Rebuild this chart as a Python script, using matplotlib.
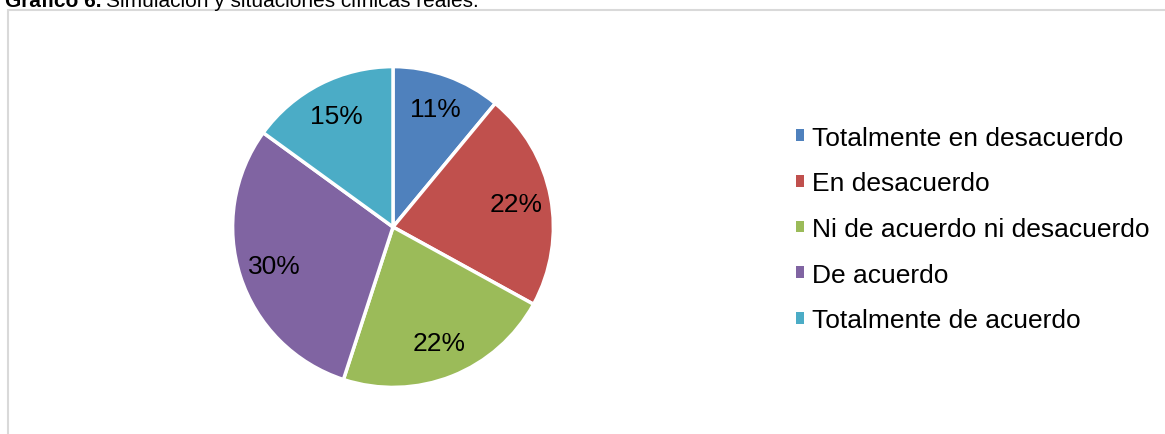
import matplotlib
import matplotlib.pyplot as plt
from matplotlib.patches import Patch, Rectangle

matplotlib.use('Agg')

# Datos del gráfico
categorias = [
    "Totalmente en desacuerdo",
    "En desacuerdo",
    "Ni de acuerdo ni desacuerdo",
    "De acuerdo",
    "Totalmente de acuerdo",
]
porcentajes = [11, 22, 22, 30, 15]
colores = ["#4F81BD", "#C0504D", "#9BBB59", "#8064A2", "#4BACC6"]

plt.rcParams['font.family'] = ['Liberation Sans', 'DejaVu Sans']

W, H = 1165, 435
fig = plt.figure(figsize=(W / 100, H / 100), dpi=100)

# Marco gris del área del gráfico
fig.patches.append(Rectangle((8 / W, -0.05), 1.2, 1 - 11 / H + 0.05,
                             transform=fig.transFigure, fill=False,
                             edgecolor="#d9d9d9", linewidth=1.5))

# Título (parcialmente fuera del borde superior)
t1 = fig.text(5 / W, 1 - 7 / H, "Gráfico 6.", fontsize=15,
              fontweight='bold', va='baseline', ha='left')
fig.canvas.draw()
bb = t1.get_window_extent()
fig.text((bb.x1 + 4) / W, 1 - 7 / H,
         "Simulación y situaciones clínicas reales.", fontsize=15,
         va='baseline', ha='left')

# Gráfico circular
cx, cy, r = 393, 228, 162
ax = fig.add_axes([(cx - r) / W, (H - cy - r) / H, 2 * r / W, 2 * r / H])
ax.pie(porcentajes, colors=colores, startangle=90, counterclock=False,
       autopct='%1.0f%%', pctdistance=0.78, radius=1,
       wedgeprops=dict(edgecolor='white', linewidth=2.5),
       textprops=dict(fontsize=19, color='black'))
ax.set_xlim(-1.01, 1.01)
ax.set_ylim(-1.01, 1.01)
ax.set_aspect('equal')
ax.axis('off')

# Leyenda
handles = [Patch(facecolor=c, edgecolor='none') for c in colores]
fig.legend(handles, categorias, loc='center left',
           bbox_to_anchor=(796 / W, 1 - 230 / H), frameon=False,
           fontsize=19, handlelength=0.32, handleheight=0.32,
           handletextpad=0.3, labelspacing=0.82, borderpad=0,
           borderaxespad=0)

plt.savefig('out.png', dpi=100)
